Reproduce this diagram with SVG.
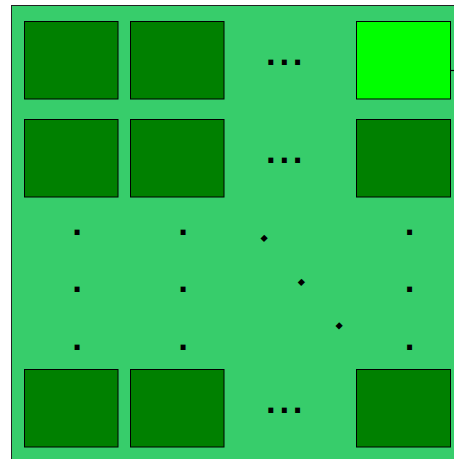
<svg xmlns="http://www.w3.org/2000/svg" width="454" height="459" viewBox="0 0 454 459">
<style>
.bg{fill:#37cd6b;stroke:#222;stroke-width:1}
.n{fill:#008000;stroke:#000;stroke-width:1}
.hi{fill:#00ff00;stroke:#000;stroke-width:1}
.dot{font-family:"DejaVu Sans",sans-serif;font-weight:bold;font-size:28px;text-anchor:middle;fill:#000}
</style>
<rect class="bg" x="11.5" y="5.5" width="460" height="470"/>
<g id="n11"><rect class="n" x="24.5" y="21.5" width="93.5" height="77.5"/></g>
<g id="n12"><rect class="n" x="130.5" y="21.5" width="93.5" height="77.5"/></g>
<g id="n1n"><rect class="hi" x="356.5" y="21.5" width="94" height="77.5"/></g>
<g id="n21"><rect class="n" x="24.5" y="119.5" width="93.5" height="77.5"/></g>
<g id="n22"><rect class="n" x="130.5" y="119.5" width="93.5" height="77.5"/></g>
<g id="n2n"><rect class="n" x="356.5" y="119.5" width="94" height="77.5"/></g>
<g id="nm1"><rect class="n" x="24.5" y="369.5" width="93.5" height="77.5"/></g>
<g id="nm2"><rect class="n" x="130.5" y="369.5" width="93.5" height="77.5"/></g>
<g id="nmn"><rect class="n" x="356.5" y="369.5" width="94" height="77.5"/></g>
<g id="connectors"><line x1="451" y1="70.5" x2="454" y2="70.5" stroke="#000" stroke-width="1.2"/></g>
<g id="dots">
<text class="dot" x="270.8 284.2 297.5" y="65">...</text>
<text class="dot" x="270.8 284.2 297.5" y="162.7">...</text>
<text class="dot" x="270.8 284.2 297.5" y="412.7">...</text>
<text class="dot" x="77 77 77" y="235 292 350">...</text>
<text class="dot" x="183 183 183" y="235 292 350">...</text>
<text class="dot" x="409.5 409.5 409.5" y="235 292 350">...</text>
<text class="dot" transform="translate(264 238.5) rotate(45)" x="0" y="2.6">.</text>
<text class="dot" transform="translate(301.3 282.3) rotate(45)" x="0" y="2.6">.</text>
<text class="dot" transform="translate(339 326) rotate(45)" x="0" y="2.6">.</text>
</g>
</svg>
